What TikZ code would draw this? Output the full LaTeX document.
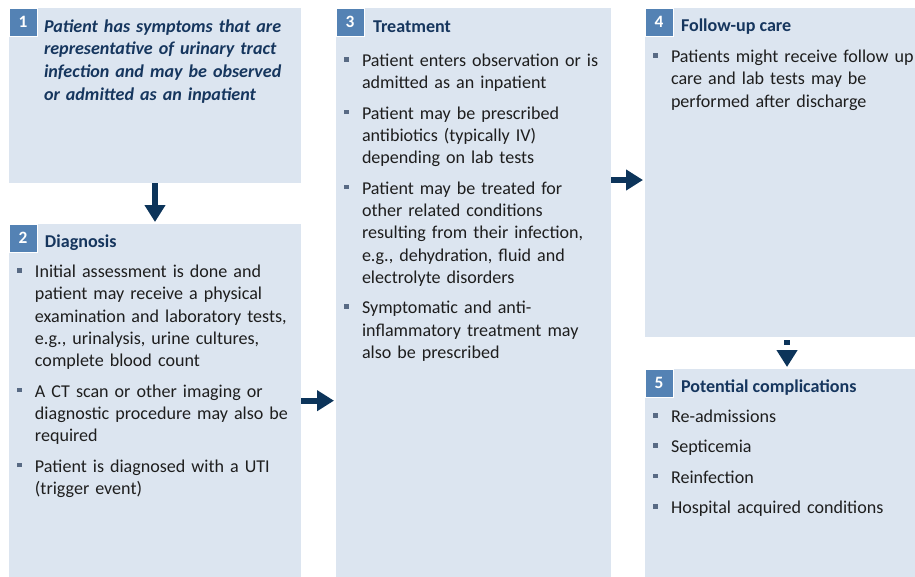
\documentclass[tikz,border=0pt]{standalone}
\usepackage{fontspec}
\setmainfont{Carlito}
\usepackage{enumitem}
\usetikzlibrary{arrows.meta,positioning}

\definecolor{boxfill}{RGB}{220,229,240}
\definecolor{badgeblue}{RGB}{84,130,180}
\definecolor{navy}{RGB}{22,54,94}
\definecolor{arrowblue}{RGB}{12,52,90}
\definecolor{bulletgray}{RGB}{88,106,132}
\definecolor{bodytext}{RGB}{30,30,30}

\newcommand{\sqbullet}{\textcolor{bulletgray}{\raisebox{3.6pt}{\rule{3.4pt}{3.4pt}}}}
\setlist[itemize]{label=\sqbullet,leftmargin=18.75pt,labelsep=9.75pt,itemsep=6pt,parsep=0pt,topsep=0pt,partopsep=0pt}

\begin{document}
\begin{tikzpicture}[x=0.75pt,
y=-0.75pt,
every node/.style={
inner sep=0pt,
outer sep=0pt,
font=\fontsize{13.55}{16.75}\selectfont,
},
box/.style={
fill=boxfill,
anchor=north west,
},
badge/.style={
fill=badgeblue,
draw=white,
line width=0.75pt,
minimum width=21pt,
minimum height=21pt,
anchor=north west,
text=white,
font=\fontsize{13}{15}\selectfont\bfseries,
},
heading/.style={
anchor=base west,
text=navy,
font=\fontsize{13.55}{16.75}\selectfont\bfseries,
},
bullets/.style={
anchor=base west,
text width=260pt,
align=left,
text=bodytext,
},
flow/.style={
arrowblue,
line width=4.5pt,
shorten >=1.5pt,
-{Triangle[length=12.75pt,width=15pt]},
}]

\useasboundingbox(0,0)rectangle(915,576);

%Symptoms box
\node[box,minimum width=219pt,minimum height=131.25pt](box1)at(9,8){};
\node[badge](b1)at(9,8){1};
\node[anchor=base west,text=navy,font=\fontsize{13.55}{17}\selectfont\bfseries\itshape,text width=220pt,align=left](t1)at(44,32){Patient has symptoms that are\\representative of urinary tract\\infection and may be observed\\or admitted as an inpatient};

%Diagnosis box
\node[box,minimum width=219pt,minimum height=265pt](box2)at(9,224){};
\node[badge](b2)at(9,224){2};
\node[heading](h2)at([shift={(8,-5)}]b2.south east){Diagnosis};
\node[bullets](l2)at(10,255){\begin{itemize}
\item Initial assessment is done and\\patient may receive a physical\\examination and laboratory tests,\\e.g., urinalysis, urine cultures,\\complete blood count
\item A CT scan or other imaging or\\diagnostic procedure may also be\\required
\item Patient is diagnosed with a UTI\\(trigger event)
\end{itemize}};

%Treatment box
\node[box,minimum width=206.25pt,minimum height=426.75pt](box3)at(336,8){};
\node[badge](b3)at(336,8){3};
\node[heading](h3)at([shift={(9,-4)}]b3.south east){Treatment};
\node[bullets](l3)at(337,44){\begin{itemize}
\item Patient enters observation or is\\admitted as an inpatient
\item Patient may be prescribed\\antibiotics (typically IV)\\depending on lab tests
\item Patient may be treated for\\other related conditions\\resulting from their infection,\\e.g., dehydration, fluid and\\electrolyte disorders
\item Symptomatic and anti-\\inflammatory treatment may\\also be prescribed
\end{itemize}};

%Follow-up box
\node[box,minimum width=203.25pt,minimum height=246.75pt](box4)at(645,8){};
\node[badge](b4)at(645,8){4};
\node[heading](h4)at([shift={(8,-5)}]b4.south east){Follow-up care};
\node[bullets](l4)at(646,40){\begin{itemize}
\item Patients might receive follow up\\care and lab tests may be\\performed after discharge
\end{itemize}};

%Complications box
\node[box,minimum width=203.25pt,minimum height=156pt](box5)at(645,369){};
\node[badge](b5)at(645,369){5};
\node[heading](h5)at([shift={(8,-5)}]b5.south east){Potential complications};
\node[bullets](l5)at(646,400){\begin{itemize}
\item Re-admissions
\item Septicemia
\item Reinfection
\item Hospital acquired conditions
\end{itemize}};

%arrows
\draw[flow](box1.south)--(box2.north);
\draw[flow](box2.east)--(box2.east-|box3.west);
\draw[flow](box3.east|-0,180)--(box4.west|-0,180);
\draw[flow,dash pattern=on 0pt off 2.25pt on 3.75pt off 30pt]([xshift=4.9pt]box4.south)--([xshift=4.9pt]box5.north);
\end{tikzpicture}
\end{document}
